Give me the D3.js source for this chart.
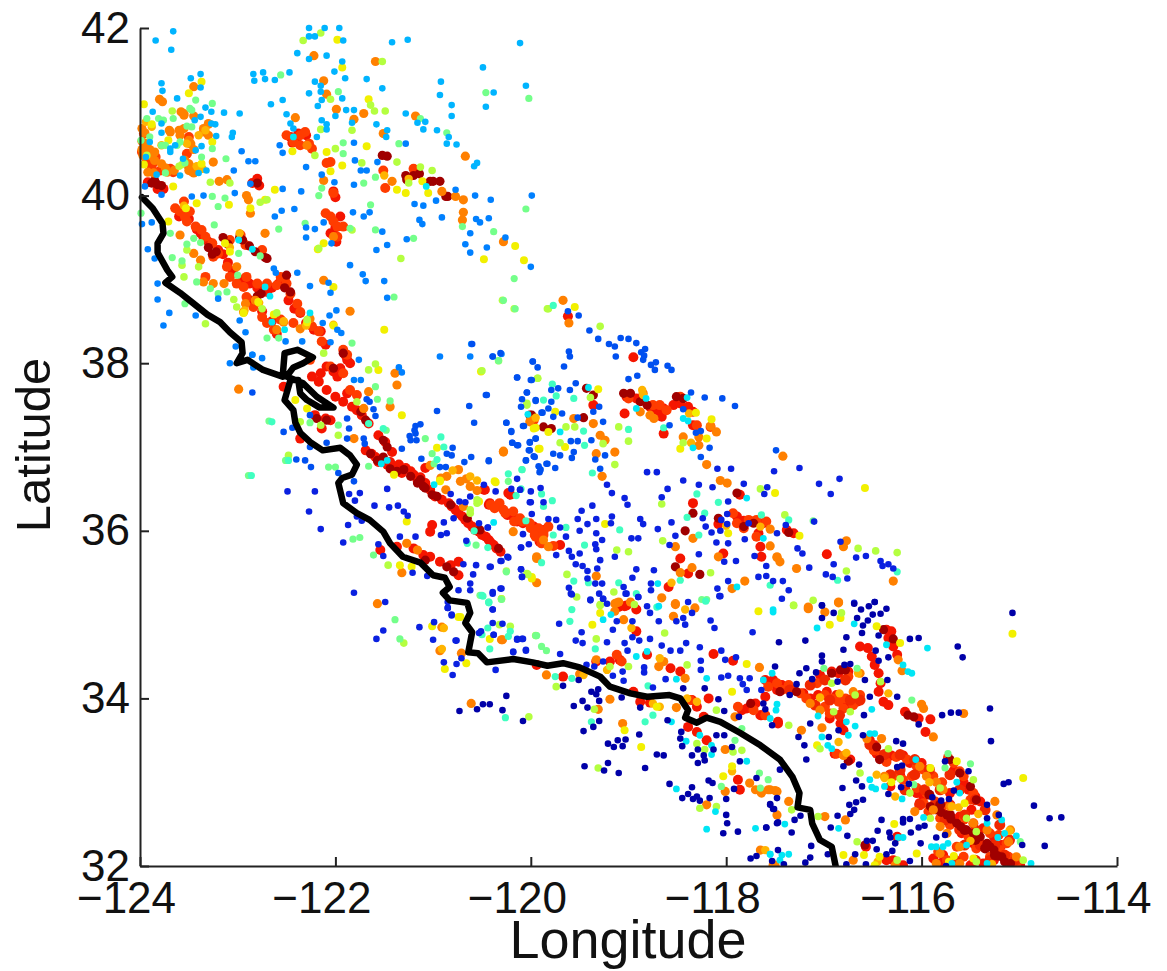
<!DOCTYPE html>
<html>
<head>
<meta charset="utf-8">
<script src="https://cdn.jsdelivr.net/npm/d3@7"></script>
<style>
html,body{margin:0;padding:0;background:#fff}
svg{display:block}
text{font-family:"Liberation Sans",Arial,sans-serif;fill:#111}
</style>
</head>
<body>
<main></main>
<script>
var xTicks = [-124,-122,-120,-118,-116,-114]
var yTicks = [32,34,36,38,40,42]

var coast = [[-123.98,39.98],[-123.87,39.85],[-123.77,39.67],[-123.76,39.55],[-123.82,39.43],[-123.82,39.32],[-123.72,39.11],[-123.67,39.03],[-123.74,38.96],[-123.59,38.84],[-123.46,38.72],[-123.31,38.58],[-123.18,38.49],[-123.08,38.37],[-122.96,38.25],[-122.95,38.12],[-123.01,38.00],[-122.90,38.04],[-122.74,37.92],[-122.54,37.84],[-122.52,38.12],[-122.39,38.16],[-122.23,38.07],[-122.33,38.00],[-122.43,37.95],[-122.50,37.84],[-122.33,37.76],[-122.19,37.60],[-122.02,37.47],[-122.16,37.47],[-122.29,37.56],[-122.36,37.64],[-122.38,37.80],[-122.46,37.80],[-122.52,37.56],[-122.43,37.44],[-122.41,37.29],[-122.36,37.17],[-122.26,37.06],[-122.13,36.96],[-121.95,36.99],[-121.85,36.90],[-121.78,36.79],[-121.83,36.67],[-121.93,36.63],[-121.97,36.57],[-121.92,36.33],[-121.78,36.21],[-121.65,36.13],[-121.51,35.99],[-121.44,35.85],[-121.31,35.69],[-121.13,35.62],[-121.00,35.47],[-120.88,35.44],[-120.83,35.33],[-120.90,35.26],[-120.83,35.17],[-120.65,35.14],[-120.62,35.02],[-120.67,34.90],[-120.60,34.79],[-120.64,34.55],[-120.54,34.54],[-120.45,34.43],[-120.18,34.47],[-119.98,34.43],[-119.83,34.39],[-119.67,34.42],[-119.50,34.37],[-119.29,34.26],[-119.19,34.14],[-118.98,34.06],[-118.81,34.02],[-118.58,34.04],[-118.47,34.00],[-118.39,33.86],[-118.42,33.77],[-118.30,33.71],[-118.20,33.77],[-118.06,33.72],[-117.86,33.59],[-117.65,33.44],[-117.45,33.27],[-117.32,33.06],[-117.25,32.87],[-117.27,32.70],[-117.14,32.67],[-117.12,32.51],[-117.04,32.31],[-116.92,32.23],[-116.88,32.00]]

var darkRed = [[-123.88,40.15],[-123.82,40.13],[-123.78,40.12],[-123.85,40.18],[-121.52,40.48],[-121.47,40.47],[-121.28,40.24],[-121.2,40.24],[-121.14,40.26],[-121.0,40.17],[-120.93,40.17],[-120.85,39.99],[-123.15,39.5],[-123.1,39.42],[-122.98,39.5],[-122.95,39.47],[-122.88,39.4],[-122.82,39.33],[-122.72,39.26],[-122.7,39.25],[-123.3,39.38],[-123.26,39.3],[-123.22,39.33],[-122.8,38.8],[-122.76,38.83],[-122.52,38.9],[-122.46,38.85],[-122.5,39.05],[-121.92,38.12],[-122.02,37.94],[-121.74,37.42],[-121.69,37.32],[-121.51,37.08],[-121.47,37.0],[-121.64,36.92],[-121.57,36.84],[-121.44,36.74],[-121.30,36.73],[-121.13,36.61],[-121.10,36.53],[-120.96,36.41],[-120.82,36.31],[-120.65,36.15],[-120.52,36.01],[-120.33,35.79],[-122.09,37.32],[-122.19,37.34],[-121.08,35.65],[-120.86,35.57],[-120.79,35.51],[-119.99,37.38],[-120.01,37.38],[-119.87,37.24],[-119.79,37.22],[-119.43,37.70],[-119.36,37.62],[-119.46,37.35],[-119.05,37.64],[-118.98,37.64],[-118.88,37.54],[-118.81,37.50],[-118.51,37.60],[-118.44,37.58],[-118.42,36.0],[-118.34,36.21],[-118.08,36.15],[-117.82,36.05],[-117.72,36.09],[-117.36,35.98],[-117.89,36.45],[-118.52,35.57],[-118.27,35.48],[-116.29,34.71],[-116.39,34.82],[-116.14,33.80],[-116.08,33.78],[-116.46,33.42],[-116.43,33.27],[-116.75,33.25],[-116.83,34.34],[-117.45,34.08],[-117.28,34.08],[-115.85,32.67],[-115.74,32.61],[-115.64,32.51],[-115.54,32.43],[-115.33,32.27],[-115.26,32.19],[-115.18,32.11],[-115.09,32.03],[-115.40,32.35],[-115.47,32.39],[-115.91,32.71],[-115.50,32.95],[-115.44,32.79],[-115.71,33.27],[-115.61,33.11],[-116.58,32.25],[-117.75,33.94]]

var red = [[-123.92,40.16],[-123.76,40.08],[-123.82,40.08],[-122.46,40.70],[-122.38,40.74],[-122.3,40.72],[-122.44,40.63],[-122.4,40.66],[-122.85,40.15],[-122.8,40.2],[-122.78,40.12],[-122.02,40.05],[-122.0,39.98],[-121.95,39.75],[-122.05,39.55],[-121.99,39.45],[-122.0,39.62],[-123.6,39.75],[-123.55,39.8],[-123.5,39.72],[-123.42,39.6],[-123.38,39.55],[-123.35,39.5],[-123.3,39.45],[-123.2,39.35],[-123.15,39.3],[-123.1,39.2],[-123.05,39.1],[-122.95,39.0],[-122.88,38.95],[-122.8,38.9],[-122.7,38.85],[-122.65,38.9],[-122.58,38.95],[-122.52,39.0],[-122.48,38.75],[-122.42,38.65],[-122.36,38.6],[-122.3,38.48],[-122.22,38.4],[-122.15,38.38],[-122.1,38.22],[-122.88,38.75],[-122.75,38.62],[-122.65,38.5],[-122.6,38.35],[-122.24,37.84],[-122.17,37.78],[-122.09,37.68],[-122.0,37.60],[-121.92,37.54],[-121.83,37.48],[-121.78,37.44],[-121.73,37.38],[-121.66,37.28],[-121.56,37.14],[-121.49,37.06],[-121.42,36.94],[-121.69,36.96],[-121.63,36.92],[-121.59,36.88],[-121.56,36.82],[-121.47,36.79],[-121.44,36.82],[-121.39,36.75],[-121.35,36.79],[-121.32,36.69],[-121.28,36.75],[-121.23,36.71],[-121.20,36.67],[-121.16,36.61],[-121.13,36.64],[-121.08,36.75],[-121.08,36.57],[-121.03,36.49],[-120.98,36.41],[-120.91,36.37],[-120.84,36.33],[-120.81,36.29],[-120.77,36.25],[-120.74,36.21],[-120.70,36.17],[-120.67,36.13],[-120.64,36.09],[-120.60,36.05],[-120.57,36.01],[-120.53,35.99],[-120.50,35.95],[-120.46,35.93],[-120.43,35.89],[-120.41,35.86],[-120.38,35.83],[-120.35,35.79],[-120.31,35.75],[-122.09,37.96],[-122.02,37.90],[-121.95,37.94],[-122.15,37.88],[-121.88,38.04],[-121.90,38.10],[-121.85,38.0],[-121.98,37.84],[-121.88,37.64],[-122.21,37.38],[-122.10,37.34],[-122.14,37.22],[-122.05,37.32],[-122.53,37.72],[-122.36,37.10],[-121.54,35.77],[-121.37,35.81],[-121.20,35.79],[-121.10,35.71],[-121.03,35.69],[-120.93,35.63],[-120.82,35.59],[-120.74,35.47],[-120.74,35.63],[-121.01,36.07],[-121.03,35.99],[-120.43,36.31],[-120.35,36.29],[-120.24,36.19],[-120.14,36.11],[-120.23,36.45],[-119.95,35.97],[-119.87,36.01],[-120.48,36.49],[-120.42,36.33],[-120.25,36.21],[-120.18,36.17],[-120.08,36.09],[-119.97,36.05],[-119.91,35.97],[-119.91,35.87],[-119.70,35.83],[-120.21,36.43],[-120.47,36.49],[-119.02,37.60],[-118.92,37.58],[-118.78,37.48],[-118.71,37.44],[-118.64,37.46],[-118.66,37.36],[-118.54,37.50],[-118.47,37.52],[-118.39,37.48],[-118.34,37.42],[-119.04,37.40],[-118.34,37.26],[-118.64,37.16],[-119.36,37.50],[-118.95,38.07],[-119.62,38.56],[-118.34,36.33],[-118.08,36.08],[-117.89,36.17],[-117.82,36.12],[-117.62,36.09],[-117.67,35.97],[-117.86,36.43],[-117.38,36.01],[-117.31,35.97],[-117.65,35.81],[-117.64,35.69],[-118.47,35.67],[-118.39,35.49],[-118.59,35.33],[-119.02,35.11],[-119.1,35.09],[-118.03,35.73],[-116.97,35.72],[-116.36,34.82],[-116.31,34.80],[-116.34,34.72],[-116.29,34.62],[-116.25,34.52],[-116.63,34.62],[-116.55,34.60],[-116.51,34.50],[-116.48,34.40],[-116.44,34.30],[-116.42,34.18],[-116.44,34.08],[-116.39,33.96],[-116.34,33.92],[-116.03,33.76],[-115.91,33.75],[-116.17,33.84],[-115.96,33.60],[-117.60,34.22],[-117.52,34.22],[-117.43,34.16],[-117.47,33.72],[-117.64,33.80],[-117.04,34.28],[-116.92,34.32],[-116.85,34.30],[-116.75,34.32],[-116.97,34.08],[-116.87,34.04],[-116.77,33.92],[-116.66,33.96],[-116.94,33.76],[-116.83,33.70],[-116.80,33.62],[-117.21,34.06],[-117.14,34.0],[-117.06,34.04],[-116.53,33.50],[-116.48,33.44],[-116.46,33.34],[-116.37,33.28],[-116.31,33.32],[-116.19,33.32],[-116.22,33.09],[-116.12,33.23],[-116.0,33.23],[-116.32,32.95],[-116.05,32.87],[-115.98,32.83],[-116.02,32.75],[-115.71,32.87],[-115.67,33.14],[-115.57,33.0],[-115.52,32.91],[-115.45,32.83],[-115.40,32.77],[-115.49,32.67],[-115.61,32.59],[-115.69,32.57],[-115.59,32.39],[-115.78,32.63],[-115.37,32.45],[-115.26,32.35],[-115.18,32.25],[-115.06,32.07],[-115.47,32.27],[-115.26,32.07],[-115.37,32.03],[-114.99,32.0],[-115.88,32.09],[-115.81,32.03],[-115.78,32.13],[-116.29,32.07],[-116.19,32.01],[-116.36,32.07],[-116.57,32.23],[-116.25,32.35],[-115.50,32.01],[-116.73,33.27],[-116.89,33.34],[-117.79,33.88],[-117.70,33.94],[-117.65,33.80],[-117.84,33.86],[-117.52,34.18],[-117.48,34.10],[-117.60,34.02],[-117.47,33.70],[-119.04,35.10],[-118.92,35.06],[-119.09,34.46],[-119.19,34.44],[-119.33,34.44],[-118.81,34.52],[-118.57,34.36],[-118.47,34.32],[-118.35,33.98],[-118.30,33.90],[-118.23,33.78],[-118.39,33.66],[-118.30,33.60],[-118.20,33.50],[-118.18,34.0],[-117.88,33.03],[-117.86,32.91],[-119.94,34.40],[-119.67,34.26],[-118.88,33.96],[-118.78,33.95],[-118.95,34.08],[-118.13,34.53],[-117.93,34.45],[-118.92,34.80]]

var darkBand = [[-121.51,36.88],[-121.37,36.71],[-121.23,36.65],[-121.16,36.57],[-121.08,36.51],[-121.01,36.43],[-122.80,40.15],[-121.27,40.19],[-121.03,40.17],[-120.87,39.99],[-115.80,32.64],[-115.70,32.56],[-115.60,32.47],[-115.44,32.37],[-115.30,32.23],[-115.22,32.12],[-115.15,32.05],[-116.92,34.30],[-116.78,34.34]]

var redOrange = [[-123.96,40.74],[-123.95,40.6],[-123.91,40.52],[-123.84,40.46],[-123.98,40.52],[-123.88,40.34],[-123.79,40.30],[-123.69,40.32],[-123.66,40.28],[-123.50,40.35],[-123.47,40.29],[-123.52,40.50],[-123.86,40.40],[-123.93,40.40],[-123.50,40.70],[-122.50,40.72],[-122.43,40.64],[-122.36,40.72],[-122.31,40.76],[-122.24,40.56],[-122.36,40.60],[-122.27,40.62],[-122.05,40.40],[-122.09,40.39],[-122.02,40.03],[-122.10,39.79],[-122.05,39.75],[-122.02,39.69],[-121.98,39.63],[-121.92,39.63],[-121.98,39.51],[-121.20,40.32],[-121.51,40.30],[-121.49,40.09],[-123.64,39.85],[-123.59,39.81],[-123.54,39.75],[-123.49,39.81],[-123.55,39.93],[-123.52,39.69],[-123.43,39.63],[-123.37,39.59],[-123.33,39.51],[-123.26,39.43],[-123.20,39.31],[-123.25,39.27],[-123.08,39.47],[-122.97,39.53],[-122.92,39.41],[-122.75,39.35],[-123.08,39.03],[-123.01,38.95],[-122.94,38.91],[-122.80,38.95],[-122.70,38.95],[-122.60,38.93],[-122.56,39.03],[-122.50,38.95],[-122.46,38.83],[-122.39,38.71],[-122.36,38.61],[-122.91,38.79],[-122.84,38.67],[-122.75,38.55],[-122.70,38.48],[-122.63,38.40],[-122.56,38.52],[-122.43,38.48],[-122.24,38.44],[-122.17,38.38],[-122.14,38.26],[-121.92,38.16],[-121.88,38.10],[-123.33,39.03],[-123.11,39.15],[-122.91,39.03],[-122.26,38.04],[-122.05,37.96],[-121.92,37.88],[-121.85,37.68],[-121.78,37.62],[-120.41,36.31],[-120.26,36.21],[-120.17,36.11],[-120.09,36.11],[-120.0,36.03],[-119.95,35.93],[-119.87,35.99],[-119.89,35.89],[-119.82,36.05],[-120.01,36.09],[-119.92,36.03],[-119.96,35.95],[-119.87,35.95],[-119.89,35.85],[-119.77,35.82],[-120.32,36.33],[-120.37,36.27],[-120.28,36.25],[-120.18,36.23],[-120.11,36.15],[-119.0,37.58],[-118.75,37.50],[-118.68,37.50],[-118.61,37.44],[-118.47,37.60],[-118.30,37.26],[-118.16,37.24],[-119.97,37.32],[-117.93,36.21],[-117.89,36.09],[-117.82,36.03],[-117.77,36.13],[-117.69,36.13],[-117.59,36.11],[-117.69,35.93],[-116.49,33.38],[-116.41,33.32],[-116.36,33.24],[-116.26,33.30],[-116.15,33.27],[-116.05,33.19],[-115.98,33.15],[-115.88,33.07],[-115.79,33.0],[-116.10,33.07],[-116.29,33.07],[-116.19,33.03],[-116.05,32.93],[-115.95,32.87],[-115.86,32.77],[-115.79,32.71],[-115.98,32.75],[-115.93,32.65],[-115.81,32.57],[-115.71,32.49],[-115.61,32.45],[-115.52,32.35],[-115.40,32.27],[-115.30,32.11],[-115.44,32.21],[-115.20,32.19],[-115.11,32.11],[-115.47,32.51],[-115.57,32.55],[-115.30,32.39],[-115.21,32.37],[-115.13,32.27],[-115.03,32.03],[-115.64,32.23],[-115.57,32.11],[-115.83,32.17],[-115.74,32.07],[-115.73,33.29],[-115.67,33.23],[-115.61,33.13],[-115.57,33.07],[-115.47,32.87],[-115.50,32.79],[-117.07,34.18],[-116.99,34.04],[-116.92,34.0],[-116.85,33.96],[-116.78,34.0],[-116.71,33.98],[-116.63,34.04],[-116.75,34.26],[-116.99,33.90],[-116.80,33.88],[-116.70,33.92],[-116.94,33.82],[-117.24,34.06],[-117.31,34.10],[-117.57,34.14],[-117.48,34.18],[-117.43,34.10],[-117.36,34.16],[-117.18,34.0],[-116.87,33.34],[-117.88,33.90],[-117.72,33.86],[-117.60,33.80],[-119.12,34.52],[-119.07,34.44],[-118.37,33.98]]

var tailRed = [[-116.53,33.45],[-116.38,33.33],[-116.22,33.15],[-116.32,33.09],[-116.07,33.09],[-115.97,32.91],[-116.17,32.91],[-115.81,32.91],[-115.86,32.73],[-115.71,32.73],[-116.02,32.73],[-115.76,32.55],[-115.56,32.61],[-115.61,32.43],[-115.45,32.43],[-115.40,32.25],[-115.56,32.25],[-115.25,32.25],[-115.30,32.07],[-115.15,32.13],[-115.45,32.07],[-115.66,32.07],[-115.04,32.07],[-115.71,33.09],[-115.61,32.91],[-115.45,32.79],[-115.35,32.67],[-115.20,32.49],[-115.10,32.31],[-116.22,33.33],[-116.07,33.27],[-115.92,33.15],[-117.35,34.10],[-117.14,34.16],[-116.99,34.22],[-116.78,34.22],[-116.94,33.98],[-116.73,33.98],[-117.09,33.92],[-116.84,33.80],[-116.63,33.98]]

var tailDark = [[-115.56,32.43],[-115.45,32.31],[-115.35,32.21],[-115.25,32.13],[-115.71,32.61],[-115.81,32.73],[-115.92,32.85]]

var orange = [[-123.98,40.8],[-123.95,40.75],[-123.98,40.65],[-123.93,40.62],[-123.98,40.55],[-123.9,40.55],[-123.85,40.52],[-123.97,40.48],[-123.88,40.47],[-123.85,40.42],[-123.78,40.38],[-123.92,40.28],[-123.86,40.27],[-123.72,40.28],[-123.65,40.3],[-123.5,40.3],[-123.45,40.27],[-123.5,40.38],[-123.47,40.33],[-123.55,40.8],[-123.6,40.78],[-123.7,40.78],[-123.5,40.66],[-123.48,40.62],[-123.45,40.55],[-123.35,40.8],[-123.3,40.85],[-123.3,40.72],[-123.58,41.0],[-123.55,40.96],[-123.45,41.3],[-123.8,41.15],[-123.77,41.12],[-123.45,40.95],[-122.22,41.67],[-121.59,41.6],[-122.12,41.37],[-122.09,41.21],[-121.99,41.03],[-122.41,40.93],[-121.71,40.98],[-121.81,40.91],[-121.18,40.95],[-121.51,40.74],[-120.67,40.47],[-122.29,40.6],[-123.19,40.17],[-123.11,40.19],[-122.91,40.0],[-122.89,39.95],[-122.87,39.79],[-122.72,39.55],[-123.59,39.53],[-122.12,38.99],[-121.85,38.62],[-122.12,40.18],[-121.42,40.17],[-120.91,40.05],[-120.77,39.99],[-120.69,39.95],[-120.70,39.71],[-120.69,39.80],[-120.28,39.45],[-122.02,39.51],[-123.14,38.95],[-123.25,38.95],[-123.35,38.97],[-123.45,39.31],[-123.01,39.15],[-122.94,38.61],[-122.60,38.40],[-122.53,38.49],[-122.99,37.69],[-121.81,37.10],[-121.66,37.66],[-121.44,37.48],[-121.37,37.74],[-121.39,37.88],[-120.28,36.94],[-119.94,35.67],[-120.30,34.70],[-121.32,35.50],[-121.27,35.85],[-121.16,35.77],[-120.91,34.85],[-120.93,34.57],[-121.57,35.13],[-120.86,36.65],[-120.74,36.73],[-120.72,36.59],[-120.62,36.53],[-120.87,36.49],[-120.69,36.29],[-120.18,35.99],[-119.87,35.89],[-120.0,37.32],[-118.85,37.64],[-118.88,37.42],[-118.78,37.38],[-118.74,37.34],[-120.01,37.30],[-119.56,37.34],[-119.36,37.28],[-119.29,37.14],[-119.24,37.08],[-119.14,36.94],[-119.33,36.92],[-120.28,36.95],[-119.67,38.75],[-119.61,38.48],[-118.16,37.25],[-118.10,37.18],[-118.28,37.12],[-118.28,37.02],[-118.44,37.12],[-118.20,36.79],[-117.42,36.89],[-119.27,36.65],[-118.06,36.60],[-117.99,36.57],[-118.34,35.91],[-118.52,35.81],[-116.77,35.88],[-116.80,35.81],[-116.29,35.40],[-117.28,35.55],[-117.48,35.69],[-117.55,35.82],[-117.45,35.63],[-119.33,35.46],[-119.94,35.38],[-119.94,35.69],[-119.82,35.81],[-118.08,35.69],[-117.81,35.40],[-117.94,35.31],[-116.85,35.15],[-117.16,35.09],[-118.52,35.13],[-119.14,35.13],[-116.02,33.19],[-115.95,33.07],[-115.85,33.0],[-115.78,32.91],[-115.71,32.71],[-115.81,32.47],[-115.74,32.39],[-115.88,32.67],[-115.61,32.23],[-115.47,32.51],[-115.33,32.43],[-115.23,32.61],[-115.09,32.43],[-115.11,32.29],[-115.03,32.11],[-115.25,32.77],[-115.81,32.15],[-115.85,32.03],[-115.61,32.03],[-116.07,32.65],[-116.41,33.52],[-116.56,33.52],[-116.38,33.07],[-116.80,33.32],[-117.04,33.86],[-117.14,33.94],[-116.70,34.08],[-116.63,34.30],[-117.16,35.07],[-116.85,35.14],[-116.99,35.03],[-116.20,34.33],[-116.24,34.46],[-116.0,33.93],[-115.98,33.88],[-115.88,33.54],[-115.57,33.82],[-117.02,33.65],[-117.23,33.62],[-117.48,32.61],[-117.36,32.77],[-117.57,32.91],[-117.50,32.90],[-117.64,32.87],[-116.99,32.59],[-116.78,32.55],[-116.70,32.07],[-117.50,32.01],[-116.27,32.01],[-119.12,35.14],[-119.14,35.04],[-119.05,34.94],[-118.54,34.98],[-118.52,35.12],[-118.32,35.08],[-118.66,35.20],[-119.33,34.46],[-118.69,34.38],[-118.64,34.44],[-118.42,34.24],[-119.19,33.99],[-119.31,33.87],[-120.71,34.54],[-120.61,33.94],[-120.29,34.70],[-119.84,34.28],[-119.50,34.29],[-118.51,33.89],[-119.06,33.70],[-118.20,32.73],[-118.01,32.89],[-117.70,32.91],[-117.76,32.99],[-117.55,32.91],[-117.48,32.89],[-117.64,32.88],[-118.01,33.39],[-117.65,32.19],[-117.52,32.01],[-117.91,33.78],[-117.66,34.37],[-123.69,40.76],[-123.59,40.72],[-123.55,40.98],[-123.30,40.86],[-123.35,40.76],[-123.49,40.62],[-123.25,40.40],[-123.54,40.42],[-123.74,40.33],[-123.38,39.23],[-122.92,38.71],[-122.82,38.75],[-122.36,38.41],[-122.26,38.53],[-121.71,37.46],[-121.03,36.78],[-120.66,36.62],[-120.92,36.63],[-120.55,36.48],[-117.55,36.02],[-117.48,35.68],[-118.35,35.56],[-118.47,35.50],[-119.10,35.15],[-118.98,35.15]]

var amber = [[-123.94,40.88],[-123.88,40.82],[-123.78,40.6],[-123.52,40.62],[-123.4,40.72],[-123.33,40.78],[-123.42,40.35],[-123.36,40.32],[-121.5,40.24],[-121.25,40.2],[-116.84,34.06],[-117.04,34.01],[-116.65,34.30],[-116.34,34.06],[-116.85,33.48],[-116.77,33.35],[-116.38,33.05],[-116.46,33.09],[-116.27,32.83],[-115.69,32.71],[-118.68,34.48],[-118.97,34.84],[-118.30,33.96],[-118.68,33.90],[-118.75,33.94],[-119.22,34.34],[-117.94,33.13],[-118.42,35.06],[-120.89,34.84],[-120.91,34.59],[-119.46,34.28],[-118.40,34.0],[-117.60,32.19],[-120.62,36.65],[-120.55,36.6],[-120.8,36.72],[-118.86,37.68],[-118.38,37.4],[-119.95,37.35],[-118.36,37.05],[-118.0,36.06],[-117.65,36.05],[-115.92,33.0],[-115.62,32.7],[-115.42,32.62],[-115.1,32.42],[-115.5,32.3],[-115.28,32.02],[-116.45,32.05],[-123.55,39.88],[-123.08,39.38],[-122.98,39.55],[-122.93,38.63],[-122.78,38.72],[-122.53,38.50],[-122.02,38.46],[-122.3,38.45],[-118.85,37.62],[-118.56,35.38]]

var yellow = [[-121.98,41.86],[-121.93,41.53],[-123.37,41.36],[-123.50,41.22],[-123.96,41.09],[-123.88,40.85],[-123.71,40.66],[-123.26,40.64],[-123.37,40.38],[-123.96,40.37],[-123.66,40.11],[-122.44,40.53],[-122.09,40.52],[-121.93,40.36],[-122.05,40.29],[-121.68,40.59],[-121.11,40.17],[-121.05,40.03],[-121.37,40.07],[-121.28,40.03],[-122.62,40.07],[-122.72,39.95],[-123.09,39.89],[-122.87,39.85],[-123.71,39.69],[-123.42,39.91],[-123.53,39.85],[-122.12,39.43],[-122.18,39.36],[-120.48,39.24],[-120.16,39.40],[-120.07,39.23],[-121.50,38.40],[-122.02,38.91],[-122.02,38.45],[-123.08,39.33],[-123.13,39.43],[-122.79,38.73],[-122.94,38.60],[-122.63,38.58],[-122.29,38.49],[-121.66,41.15],[-120.51,37.90],[-121.56,37.92],[-121.32,37.38],[-120.96,36.99],[-121.40,36.67],[-121.27,36.11],[-120.36,36.58],[-120.93,36.59],[-120.53,36.35],[-119.99,35.45],[-119.92,36.98],[-119.95,37.23],[-120.72,34.97],[-121.01,34.86],[-121.34,35.59],[-121.22,35.57],[-122.29,37.46],[-122.41,37.56],[-119.55,38.67],[-119.75,37.42],[-119.31,37.69],[-119.97,37.22],[-119.82,37.18],[-120.37,36.59],[-119.91,36.98],[-119.65,37.0],[-119.24,36.08],[-119.99,35.43],[-118.15,37.33],[-118.20,37.10],[-118.47,36.98],[-118.31,37.41],[-117.50,36.45],[-116.58,36.51],[-117.25,35.94],[-117.98,35.97],[-117.67,35.04],[-119.37,34.88],[-119.29,35.02],[-118.87,33.42],[-119.04,33.62],[-120.88,34.35],[-120.66,34.42],[-120.74,34.97],[-120.42,34.71],[-118.71,33.90],[-117.94,34.08],[-117.79,34.41],[-118.03,33.07],[-117.94,33.19],[-116.94,34.88],[-116.83,34.96],[-116.46,34.86],[-116.22,34.66],[-115.07,34.77],[-114.96,33.05],[-117.07,33.44],[-116.28,32.50],[-116.05,32.15],[-116.59,32.13],[-116.43,32.11],[-116.48,32.01],[-116.80,32.13],[-116.31,33.0],[-115.91,33.17],[-115.64,33.25],[-115.47,32.09],[-115.56,32.75],[-120.93,36.6],[-115.67,32.12],[-115.72,32.05]]

var lime = [[-122.33,41.85],[-122.15,41.94],[-121.52,41.60],[-122.05,41.15],[-123.67,41.01],[-121.64,41.08],[-121.49,41.01],[-121.60,41.01],[-121.83,40.78],[-122.15,40.79],[-122.0,40.56],[-122.21,40.48],[-121.73,40.39],[-121.13,40.34],[-121.01,40.30],[-121.37,40.40],[-121.25,40.15],[-123.57,40.37],[-123.93,40.48],[-123.60,40.35],[-123.08,40.15],[-123.28,40.16],[-122.70,39.95],[-122.77,39.92],[-121.83,39.59],[-121.33,39.25],[-119.83,38.65],[-123.33,38.47],[-123.55,39.03],[-123.57,39.17],[-123.40,39.15],[-123.52,39.35],[-123.04,38.76],[-123.01,38.67],[-122.75,38.65],[-122.12,38.12],[-122.29,38.52],[-122.17,39.37],[-122.60,38.60],[-122.48,36.90],[-121.59,37.99],[-121.66,37.92],[-121.78,37.54],[-121.97,37.14],[-122.36,37.30],[-122.15,37.26],[-119.93,37.82],[-120.04,37.52],[-120.04,35.49],[-120.30,35.19],[-121.46,35.59],[-121.30,34.66],[-120.55,36.33],[-120.62,36.21],[-120.29,38.75],[-120.17,38.65],[-119.82,38.65],[-119.29,38.44],[-120.50,37.91],[-119.93,37.82],[-120.33,38.03],[-120.04,37.50],[-119.64,37.24],[-119.55,37.24],[-119.39,37.59],[-119.10,37.24],[-119.0,37.07],[-119.26,37.04],[-119.70,37.05],[-119.14,36.79],[-118.66,36.32],[-118.65,35.88],[-119.12,35.77],[-119.0,35.75],[-120.25,35.52],[-120.03,35.48],[-119.63,35.48],[-119.15,35.27],[-119.53,35.21],[-119.29,35.11],[-120.30,35.19],[-118.44,37.05],[-118.16,35.50],[-117.65,36.50],[-117.40,36.19],[-116.77,35.52],[-116.65,35.79],[-116.47,35.76],[-116.25,35.74],[-117.31,35.11],[-117.11,35.17],[-116.42,34.20],[-116.68,34.04],[-116.90,33.84],[-116.73,33.84],[-116.92,34.18],[-116.34,33.40],[-116.63,33.11],[-116.22,33.04],[-116.12,32.87],[-115.81,32.93],[-115.91,32.57],[-115.47,33.03],[-115.44,32.41],[-115.54,32.57],[-114.96,32.07],[-115.44,32.05],[-116.66,32.29],[-117.04,33.40],[-117.36,33.68],[-117.31,35.11],[-116.82,35.02],[-116.25,32.07],[-117.33,32.67],[-117.06,32.59],[-119.95,34.75],[-119.33,34.71],[-120.32,34.88],[-120.21,34.86],[-120.02,33.78],[-119.31,33.17],[-119.74,34.14],[-119.35,33.87],[-118.63,34.78],[-118.40,34.40],[-118.27,32.69],[-118.10,32.71],[-117.93,33.36],[-117.84,33.38],[-118.22,33.39],[-118.30,33.46],[-118.10,33.86],[-119.19,34.38],[-119.0,34.38],[-119.29,35.12],[-118.94,35.12],[-120.55,36.37],[-120.62,36.25]]

var green = [[-123.99,39.79],[-122.56,41.44],[-121.97,41.24],[-120.46,41.23],[-120.02,41.16],[-120.86,40.75],[-121.35,40.62],[-121.92,40.63],[-121.92,40.50],[-123.12,40.44],[-123.26,40.56],[-123.37,40.46],[-123.47,41.02],[-123.81,40.92],[-123.93,40.92],[-123.59,40.64],[-123.74,40.60],[-123.26,41.10],[-123.43,41.14],[-123.26,39.99],[-123.13,39.97],[-123.20,39.87],[-123.99,40.66],[-122.58,39.60],[-122.31,39.67],[-122.17,40.0],[-122.14,40.09],[-121.71,40.15],[-121.64,39.89],[-121.85,39.61],[-121.59,40.22],[-121.13,40.92],[-120.05,39.84],[-120.38,39.57],[-120.17,39.01],[-120.28,38.75],[-120.16,38.65],[-121.20,39.49],[-121.40,38.79],[-123.69,39.55],[-123.45,39.49],[-123.52,39.42],[-123.67,39.26],[-123.57,39.22],[-123.38,39.44],[-123.42,38.97],[-123.28,38.89],[-123.20,38.83],[-123.11,38.85],[-123.54,38.71],[-122.70,38.30],[-122.58,38.30],[-122.77,39.28],[-121.83,38.24],[-123.24,39.65],[-122.99,39.31],[-123.0,39.05],[-121.59,39.59],[-120.70,39.63],[-122.68,37.31],[-122.89,36.66],[-122.51,36.84],[-122.07,36.76],[-122.0,36.76],[-121.59,37.72],[-121.57,37.57],[-121.44,37.55],[-121.48,37.20],[-121.08,37.10],[-121.01,36.92],[-120.99,36.80],[-121.66,36.77],[-121.97,37.26],[-122.26,37.29],[-120.56,35.83],[-120.25,35.51],[-121.82,35.90],[-121.75,35.92],[-121.39,34.94],[-121.34,34.71],[-119.94,34.75],[-120.52,35.23],[-120.43,35.15],[-120.33,38.03],[-120.23,36.59],[-120.09,36.73],[-121.61,35.71],[-119.95,34.75],[-119.89,34.62],[-119.84,34.57],[-120.30,35.18],[-118.20,35.18],[-118.25,35.18],[-117.84,33.64],[-117.91,33.50],[-117.65,32.93],[-117.57,33.03],[-117.66,33.11],[-118.05,32.95],[-116.66,34.36],[-115.73,33.34],[-115.76,33.17],[-115.50,33.22],[-116.08,32.97],[-114.99,32.29],[-116.10,33.98],[-117.0,34.36],[-117.11,36.12],[-123.76,40.90],[-123.66,40.92],[-123.52,40.83],[-123.47,40.82],[-123.49,41.04],[-123.90,40.70],[-123.78,40.60],[-123.62,40.60],[-123.74,40.27],[-123.54,40.39]]

var aqua = [[-119.77,38.69],[-119.78,37.75],[-119.74,37.61],[-119.56,37.58],[-119.87,37.56],[-119.46,37.19],[-119.45,37.02],[-119.0,37.21],[-118.64,37.23],[-118.30,36.44],[-120.23,36.68],[-120.09,36.73],[-119.89,36.44],[-119.78,36.36],[-119.87,36.29],[-119.64,36.04],[-119.77,35.95],[-119.45,35.83],[-119.89,35.62],[-119.56,35.40],[-119.41,35.38],[-119.10,35.38],[-118.92,35.25],[-120.49,35.22],[-120.43,35.14],[-119.09,36.01],[-119.37,36.69],[-118.08,36.34],[-118.22,36.21],[-118.40,36.16],[-118.28,35.95],[-117.64,36.19],[-117.36,36.13],[-116.86,35.41],[-117.55,35.35],[-118.47,35.41],[-118.71,35.09],[-118.21,35.16],[-116.25,35.51],[-120.50,35.23],[-120.43,35.15],[-120.44,34.84],[-120.21,34.80],[-120.23,34.74],[-120.50,34.76],[-120.42,34.59],[-119.58,35.06],[-119.60,34.92],[-119.34,34.59],[-119.75,34.26],[-119.58,34.24],[-122.65,37.3],[-122.48,36.84],[-122.86,36.66],[-121.66,37.28],[-121.51,37.22],[-120.92,37.12],[-120.89,37.0],[-120.96,36.85],[-120.58,36.0],[-120.44,35.8],[-120.65,35.85],[-120.1,36.5],[-120.15,36.42],[-120.05,36.12],[-118.8,34.15],[-118.75,33.8],[-118.83,33.72],[-119.38,33.72],[-120.26,33.77]]

var cyan = [[-122.43,40.70],[-121.07,40.11],[-122.65,38.49],[-122.72,38.91],[-122.85,39.36],[-122.99,39.47],[-122.26,38.60],[-122.52,38.40],[-122.67,38.80],[-116.75,33.56],[-117.02,33.54],[-116.92,33.40],[-116.96,33.44],[-116.53,33.58],[-116.48,33.58],[-116.68,33.67],[-116.77,33.72],[-116.85,32.45],[-117.40,32.50],[-117.36,32.14],[-117.43,32.13],[-117.55,32.14],[-117.45,32.07],[-115.90,32.23],[-115.85,32.23],[-115.78,32.23],[-115.73,32.27],[-116.24,32.34],[-116.19,32.34],[-116.53,33.03],[-116.51,32.94],[-116.47,32.92],[-116.38,32.95],[-116.06,33.27],[-116.20,32.80],[-115.98,32.58],[-115.64,33.0],[-115.61,32.87],[-115.33,32.51],[-115.18,32.55],[-115.15,32.39],[-115.22,32.34],[-115.03,32.36],[-115.54,32.25],[-115.69,32.03],[-115.33,32.03],[-114.88,32.03],[-116.14,34.32],[-116.10,34.30],[-116.19,34.40],[-115.94,34.60],[-116.36,34.64],[-116.51,33.87],[-117.06,33.79],[-117.52,35.06],[-117.48,33.93],[-117.49,33.86],[-117.55,33.76],[-117.07,34.84],[-116.69,34.89],[-117.62,34.22],[-117.53,34.30],[-118.51,32.92],[-118.20,32.44],[-118.11,32.65],[-117.70,32.45],[-117.55,32.14],[-118.15,33.33],[-118.41,33.49],[-118.27,33.56],[-118.15,33.44],[-118.56,33.72],[-118.92,34.50],[-118.81,34.56],[-119.26,34.94],[-119.18,35.0],[-117.52,35.03],[-118.69,35.10],[-117.79,33.25],[-118.51,34.23],[-118.20,34.24],[-119.41,37.71],[-120.03,37.39],[-118.82,37.58],[-118.92,37.46],[-118.40,37.59],[-118.44,37.34],[-118.39,37.31],[-117.62,35.91],[-117.79,36.39],[-118.70,35.37],[-117.89,35.33],[-118.34,36.99],[-119.70,37.18],[-121.53,36.8],[-121.47,36.84],[-120.99,36.55],[-120.38,36.1]]

var sky = [[-123.66,41.96],[-123.84,41.85],[-123.68,41.74],[-122.27,42.0],[-122.11,42.0],[-121.96,42.0],[-122.27,41.9],[-122.21,41.9],[-121.92,41.85],[-121.42,41.83],[-121.26,41.86],[-120.11,41.82],[-122.39,41.70],[-122.09,41.67],[-122.27,41.63],[-121.93,41.60],[-120.49,41.53],[-122.84,41.45],[-122.74,41.47],[-122.47,41.47],[-122.83,41.37],[-122.72,41.39],[-122.62,41.38],[-122.01,41.48],[-121.90,41.40],[-121.68,41.39],[-120.92,41.36],[-120.05,41.31],[-120.38,41.23],[-123.38,41.45],[-123.48,41.40],[-123.78,41.34],[-123.77,41.25],[-123.38,41.29],[-122.21,41.36],[-122.15,41.31],[-122.15,41.24],[-122.27,41.22],[-121.52,41.28],[-120.93,41.20],[-122.14,41.14],[-121.93,41.16],[-122.54,41.14],[-122.66,41.09],[-122.18,41.07],[-120.81,41.08],[-120.46,41.06],[-123.62,41.16],[-123.33,41.05],[-123.87,41.0],[-123.27,41.0],[-123.14,40.99],[-122.98,40.98],[-123.38,40.94],[-123.44,40.90],[-123.27,40.86],[-123.23,40.85],[-123.78,40.86],[-123.78,40.75],[-123.05,40.75],[-123.06,40.70],[-123.22,40.71],[-123.69,40.56],[-123.69,40.52],[-123.90,40.64],[-123.37,40.59],[-123.40,40.27],[-123.32,40.30],[-123.59,40.24],[-123.64,40.60],[-123.83,40.25],[-123.94,40.46],[-123.56,40.44],[-123.43,40.54],[-122.50,40.97],[-122.46,40.86],[-122.43,40.80],[-122.19,40.70],[-122.09,40.85],[-122.09,40.79],[-122.14,40.90],[-122.0,40.95],[-121.89,41.02],[-121.81,41.02],[-121.83,40.87],[-121.58,40.85],[-121.47,40.78],[-121.48,40.70],[-121.28,40.98],[-121.16,40.87],[-121.08,40.88],[-121.10,40.79],[-120.96,40.78],[-120.84,40.70],[-120.86,40.62],[-120.76,40.61],[-120.81,40.95],[-120.58,40.35],[-120.55,40.39]]

var azure = [[-122.54,40.08],[-122.87,40.14],[-122.35,40.05],[-122.62,39.75],[-122.55,39.82],[-122.42,39.84],[-123.04,40.30],[-122.89,40.41],[-122.82,40.41],[-122.96,40.53],[-123.47,39.99],[-123.35,40.0],[-123.03,40.03],[-123.95,40.11],[-123.78,40.01],[-123.98,39.66],[-123.88,39.68],[-123.76,38.45],[-123.70,38.60],[-123.82,38.76],[-123.82,38.95],[-123.92,39.36],[-123.85,39.25],[-123.43,38.57],[-123.20,38.77],[-122.98,38.51],[-122.92,38.37],[-123.02,38.20],[-122.85,38.10],[-122.63,39.13],[-122.61,39.08],[-122.39,39.08],[-122.26,38.92],[-122.05,38.84],[-122.07,38.96],[-122.30,39.50],[-122.30,39.62],[-122.21,39.60],[-122.12,39.68],[-122.04,39.43],[-121.82,39.80],[-121.71,39.75],[-121.65,39.80],[-121.85,39.17],[-121.72,39.06],[-121.69,38.98],[-121.50,38.98],[-121.47,38.78],[-121.58,39.35],[-121.47,39.41],[-121.52,39.57],[-121.27,39.48],[-121.14,39.71],[-121.11,39.66],[-120.91,39.74],[-121.19,39.90],[-121.10,39.88],[-120.97,39.94],[-120.56,39.72],[-120.52,39.68],[-120.43,39.73],[-120.62,39.55],[-120.67,39.42],[-120.62,39.32],[-120.45,39.38],[-120.26,39.50],[-120.0,39.15],[-120.61,38.23],[-122.13,38.48],[-122.06,38.57],[-121.99,38.63],[-121.98,38.40],[-121.94,38.36],[-122.05,38.25],[-122.34,38.26],[-122.51,38.26],[-120.41,39.95],[-120.57,40.0],[-120.77,40.07],[-119.99,40.0],[-121.74,40.30],[-121.68,40.30],[-121.57,40.40],[-121.80,40.42],[-121.81,40.13],[-122.01,40.16],[-122.14,40.25],[-122.30,40.34],[-122.54,40.51],[-122.57,40.60],[-121.81,40.63],[-121.28,40.62],[-120.93,38.08],[-120.62,38.08],[-120.39,38.08],[-120.30,38.11],[-121.35,37.95],[-121.32,37.89],[-122.85,38.10],[-122.75,38.06],[-123.08,38.0],[-122.84,37.95],[-121.76,38.04],[-121.81,37.80],[-121.74,37.80]]

var blue = [[-119.51,38.57],[-119.62,38.62],[-119.40,38.39],[-119.31,38.29],[-119.20,38.23],[-119.14,38.20],[-119.08,38.30],[-119.0,38.29],[-118.92,38.24],[-118.83,38.17],[-118.87,38.13],[-118.84,38.09],[-118.85,38.04],[-119.13,38.08],[-118.77,37.98],[-118.73,37.92],[-118.72,38.01],[-118.60,37.97],[-118.56,37.92],[-118.91,37.85],[-119.0,37.81],[-120.39,38.08],[-120.31,38.12],[-119.98,38.02],[-119.93,37.95],[-119.66,37.96],[-119.61,38.14],[-119.60,38.08],[-120.14,37.83],[-120.0,37.80],[-119.54,37.76],[-119.72,37.70],[-119.79,37.68],[-120.46,37.62],[-120.04,37.65],[-120.09,37.57],[-120.10,37.48],[-119.95,37.56],[-119.60,37.68],[-119.79,37.54],[-119.82,37.46],[-119.89,37.41],[-119.68,37.40],[-119.77,37.36],[-119.36,37.42],[-119.30,37.48],[-119.26,37.30],[-119.52,37.35],[-120.25,37.29],[-120.08,37.25],[-120.20,37.18],[-120.19,37.05],[-120.14,37.02],[-120.01,37.05],[-119.95,37.10],[-120.02,36.96],[-119.97,36.89],[-119.77,36.92],[-119.70,36.90],[-119.59,37.07],[-119.52,37.07],[-119.38,37.08],[-119.56,36.94],[-119.58,36.87],[-119.24,36.90],[-119.34,36.85],[-120.43,36.84],[-120.05,36.84],[-119.84,36.80],[-119.92,36.77],[-119.91,36.70],[-119.75,36.75],[-119.29,36.74],[-118.36,37.65],[-118.22,37.59],[-118.04,37.58],[-117.91,37.49],[-118.58,37.26],[-118.26,37.19],[-118.31,37.17],[-118.44,37.45],[-118.17,36.99],[-118.26,36.88],[-117.49,36.96],[-120.60,38.23],[-120.14,37.83],[-120.45,37.62],[-120.63,37.49],[-120.96,37.43],[-120.58,37.29],[-120.25,37.29],[-120.20,37.19],[-120.04,37.65],[-119.99,37.80],[-119.98,38.02],[-119.95,37.55],[-119.88,37.41],[-120.07,37.25],[-119.95,37.10],[-120.01,37.06],[-120.01,36.96],[-120.19,37.05],[-120.13,37.02],[-119.96,36.88],[-120.05,36.84],[-119.90,36.73],[-119.83,36.80],[-120.43,36.83],[-120.61,36.88],[-120.68,36.82],[-120.86,36.92],[-120.80,36.99],[-120.81,36.90],[-120.93,36.76],[-120.87,36.76],[-121.12,36.86],[-121.13,37.27],[-121.18,37.25],[-121.19,37.20],[-121.24,37.13],[-121.18,37.16],[-121.23,37.08],[-121.17,37.08],[-121.32,36.98],[-121.59,37.37],[-121.61,37.45],[-121.68,37.57],[-121.65,37.54],[-121.88,37.34],[-121.86,37.22],[-121.71,37.10],[-121.70,37.04],[-121.88,37.10],[-122.09,37.05],[-122.26,37.0],[-122.53,37.18],[-122.44,37.23],[-122.26,37.38],[-122.85,37.65],[-122.40,36.85],[-122.31,36.84],[-122.25,36.76],[-121.97,36.69],[-121.81,36.59]]

var royal = [[-118.81,36.70],[-118.71,36.70],[-118.09,36.74],[-117.95,36.74],[-117.51,36.71],[-117.25,36.75],[-116.84,36.62],[-117.05,36.56],[-116.93,36.44],[-118.44,36.60],[-118.28,36.55],[-118.14,36.52],[-117.82,36.56],[-117.58,36.52],[-117.61,36.44],[-118.60,36.50],[-118.66,36.40],[-119.17,36.45],[-119.22,36.55],[-119.04,36.39],[-119.01,36.31],[-119.37,36.30],[-119.48,36.24],[-119.52,36.14],[-119.33,36.14],[-119.17,36.17],[-119.18,36.09],[-119.42,36.08],[-119.50,36.0],[-119.33,35.97],[-119.27,35.89],[-119.34,35.84],[-119.33,35.78],[-119.50,35.73],[-119.58,35.69],[-119.61,35.76],[-119.74,35.71],[-119.14,35.69],[-119.29,35.65],[-119.54,35.60],[-119.47,35.58],[-119.32,35.55],[-119.42,35.52],[-119.42,35.43],[-119.27,35.37],[-119.34,35.37],[-119.61,35.32],[-119.59,35.25],[-119.30,35.25],[-119.39,35.17],[-119.26,35.19],[-119.22,35.13],[-119.05,35.33],[-119.03,35.25],[-118.96,35.44],[-118.77,35.37],[-118.77,35.29],[-118.90,35.21],[-118.92,35.54],[-118.74,35.53],[-120.42,35.57],[-120.10,35.54],[-120.09,35.45],[-120.31,35.64],[-120.24,35.69],[-120.10,35.80],[-120.02,35.84],[-120.08,35.96],[-119.74,36.13],[-119.70,36.04],[-119.64,35.93],[-119.82,36.14],[-119.99,36.20],[-119.87,36.34],[-120.01,36.34],[-120.0,36.47],[-120.11,36.49],[-120.14,36.62],[-120.44,36.04],[-120.39,35.27],[-120.31,35.31],[-118.88,36.14],[-118.85,36.08],[-118.70,36.02],[-118.56,36.10],[-118.52,35.94],[-118.97,35.91],[-118.90,35.91],[-118.58,35.83],[-118.28,35.72],[-118.24,36.15],[-118.21,36.05],[-118.15,35.98],[-118.06,36.0],[-118.10,35.86],[-117.98,35.85],[-118.02,35.63],[-117.90,35.64],[-117.81,35.90],[-117.71,35.70],[-117.59,35.58],[-117.15,35.56],[-116.90,35.60],[-116.67,35.68],[-116.57,35.70],[-116.42,35.64],[-116.40,35.58],[-116.34,35.60],[-116.29,35.55],[-116.98,35.48],[-116.91,35.45],[-116.76,35.43],[-117.67,35.45],[-117.59,35.46],[-117.52,35.40],[-117.42,35.40],[-117.36,35.29],[-117.43,35.19],[-117.98,35.40],[-118.09,35.31],[-118.07,35.22],[-118.39,35.15],[-117.27,35.79],[-117.22,35.73],[-117.39,36.07],[-117.48,35.97],[-117.10,36.11],[-116.83,35.87],[-116.69,35.14],[-116.48,35.15],[-117.02,35.11],[-117.98,36.35],[-117.99,36.20],[-117.99,36.08],[-118.05,36.13],[-117.77,36.09],[-121.80,36.36],[-121.86,36.44],[-121.75,36.45],[-122.49,36.47],[-122.21,36.47],[-122.27,36.23],[-121.47,36.50],[-121.45,36.28],[-121.36,36.30],[-121.60,36.30],[-121.73,36.12],[-121.78,36.17],[-121.30,36.23],[-121.26,36.18],[-121.87,36.07],[-122.15,36.02],[-121.92,35.86],[-121.34,35.93],[-121.18,35.93],[-120.89,36.10],[-120.86,35.97],[-120.92,35.95],[-120.79,36.15],[-120.66,35.88],[-120.53,36.09],[-120.44,36.04],[-120.73,36.35],[-120.67,36.34],[-120.82,36.44],[-120.62,36.41],[-120.36,36.47],[-120.48,36.55],[-120.20,36.50],[-120.11,36.49],[-120.0,36.34],[-119.90,36.51],[-120.10,35.80],[-120.23,35.68],[-120.30,35.64],[-120.56,35.59],[-120.41,35.57],[-120.69,35.60],[-120.10,35.54],[-120.09,35.45],[-120.59,35.48],[-120.62,35.37],[-120.62,35.29],[-120.74,35.29],[-120.30,35.31],[-120.39,35.25],[-120.39,35.06],[-120.29,34.89],[-120.38,34.76],[-120.53,34.78],[-120.99,34.91],[-121.14,34.85],[-121.0,34.70],[-120.76,34.69],[-120.81,34.99],[-120.85,35.08],[-120.85,35.15],[-121.81,35.26],[-121.49,35.15],[-121.58,34.71],[-121.51,34.81],[-121.21,35.50],[-121.06,35.46],[-121.56,35.84],[-121.51,35.70],[-120.18,34.56],[-120.05,34.58],[-120.14,34.70],[-120.08,34.71],[-120.39,35.06],[-120.81,35.0],[-120.85,35.08],[-120.51,34.80],[-120.39,34.90],[-120.38,34.76],[-120.14,34.71],[-120.09,34.71],[-120.77,34.69],[-120.18,34.55],[-120.05,34.57],[-119.70,34.53],[-120.36,34.34],[-120.80,34.28],[-120.76,34.41],[-120.89,34.43],[-120.71,34.48],[-119.71,34.89],[-119.48,34.79],[-119.54,34.69],[-119.47,34.66],[-119.22,34.67],[-119.16,34.82],[-119.12,34.92],[-118.96,34.92],[-118.96,34.73],[-118.89,34.69],[-118.78,34.71],[-119.04,34.66],[-119.01,34.57],[-118.66,34.63],[-118.57,34.57],[-118.47,34.57],[-118.41,34.66],[-118.27,34.61],[-118.26,34.45],[-118.26,34.34],[-118.05,34.57],[-118.01,34.46],[-117.90,34.49],[-118.05,34.25],[-117.98,34.27],[-117.86,34.24],[-117.76,34.24],[-117.83,34.17],[-117.79,34.10],[-117.64,34.10],[-118.69,34.92],[-118.51,34.92],[-118.44,34.96],[-118.42,34.88],[-118.16,34.93],[-118.12,34.84],[-117.73,34.79],[-118.06,35.22],[-119.26,35.19],[-119.39,35.18],[-119.58,35.24],[-119.02,35.25],[-118.90,35.21],[-118.81,35.10],[-118.78,35.02],[-118.35,35.02],[-118.84,34.37],[-118.84,34.31],[-118.75,34.13],[-118.62,34.23],[-119.26,34.44],[-119.16,34.27],[-119.05,34.21],[-119.06,34.32],[-119.35,34.38],[-119.43,34.40]]

var navy = [[-120.25,34.03],[-120.49,33.93],[-120.42,33.93],[-120.55,33.87],[-120.73,33.85],[-120.29,33.86],[-120.08,33.73],[-119.56,33.91],[-119.47,33.97],[-119.42,33.89],[-119.38,34.08],[-119.31,34.11],[-119.33,34.05],[-119.30,33.97],[-119.51,34.22],[-119.67,34.15],[-119.30,33.73],[-119.36,33.66],[-119.46,33.61],[-118.89,33.57],[-119.07,34.01],[-118.88,33.89],[-119.21,33.46],[-119.11,33.50],[-119.03,33.51],[-119.15,33.42],[-119.06,33.43],[-118.71,33.33],[-118.64,33.32],[-119.45,33.19],[-119.21,33.23],[-119.25,33.14],[-119.10,33.11],[-118.83,33.17],[-118.58,32.98],[-118.35,32.94],[-118.39,32.86],[-118.45,32.81],[-118.34,32.80],[-118.30,32.83],[-118.27,32.78],[-118.17,32.81],[-118.18,33.02],[-118.14,32.99],[-118.00,32.61],[-117.99,32.51],[-117.88,32.41],[-118.03,32.39],[-117.59,32.46],[-117.69,32.12],[-117.75,32.09],[-117.92,32.92],[-118.00,32.80],[-117.69,33.05],[-117.55,32.73],[-117.51,32.68],[-117.48,32.51],[-117.86,33.25],[-117.94,33.42],[-118.47,33.52],[-118.45,33.43],[-118.35,33.32],[-118.29,33.23],[-118.23,33.32],[-118.22,33.26],[-118.29,33.39],[-118.13,33.39],[-118.10,33.56],[-118.02,33.56],[-118.08,33.99],[-118.02,33.85],[-117.87,33.78],[-118.60,33.74],[-118.46,33.60],[-118.22,34.12],[-118.44,34.12],[-115.07,35.02],[-115.30,33.88],[-115.29,33.49],[-115.79,33.80],[-115.70,33.83],[-115.62,33.83],[-115.63,34.62],[-115.58,34.49],[-116.12,34.71],[-116.03,34.72],[-115.16,32.98],[-115.11,33.0],[-114.85,32.72],[-114.69,32.57],[-114.57,32.58],[-114.74,32.24],[-114.97,32.25],[-115.33,32.73],[-115.21,32.61],[-115.33,32.57],[-116.48,35.15],[-116.54,35.10],[-116.36,35.07],[-116.50,35.0],[-116.42,35.01],[-116.55,34.93],[-116.60,34.87],[-116.66,34.96],[-116.69,35.13],[-116.62,35.06],[-117.02,35.11],[-116.90,35.02],[-117.02,34.96],[-116.77,34.73],[-116.61,34.78],[-116.44,34.75],[-117.19,34.69],[-117.46,34.67],[-116.80,34.58],[-116.47,34.57],[-116.34,34.49],[-117.02,34.51],[-117.02,34.44],[-116.44,34.45],[-116.79,34.40],[-116.73,34.41],[-117.50,34.38],[-117.25,34.30],[-117.18,34.36],[-117.12,34.23],[-117.08,34.31],[-116.86,34.2],[-116.58,34.22],[-116.35,34.22],[-116.25,34.02],[-116.53,34.02],[-117.35,34.04],[-117.28,34.17],[-117.62,33.94],[-117.60,33.87],[-116.59,33.80],[-117.14,33.70],[-116.85,33.62],[-117.53,33.68],[-116.03,33.69],[-117.26,33.54],[-116.95,33.54],[-117.20,33.44],[-116.60,33.56],[-116.26,33.49],[-116.19,33.46],[-117.18,33.27],[-116.80,33.19],[-116.64,33.21],[-116.25,33.18],[-116.20,33.2],[-117.45,33.15],[-116.67,33.02],[-116.61,32.95],[-116.81,32.93],[-116.13,32.98],[-116.21,32.94],[-116.34,32.86],[-115.89,32.82],[-115.80,32.78],[-115.72,32.80],[-115.67,32.90],[-115.52,33.13],[-115.76,33.25],[-116.60,32.79],[-116.67,32.76],[-116.74,32.73],[-116.69,32.67],[-116.73,32.62],[-116.86,32.60],[-117.48,32.81],[-117.55,32.74],[-117.52,32.68],[-117.24,32.60],[-117.30,32.55],[-117.47,32.52],[-117.59,32.46],[-117.33,32.40],[-116.93,32.46],[-116.76,32.36],[-116.41,32.55],[-116.45,32.42],[-116.33,32.40],[-116.32,32.34],[-116.19,32.56],[-116.12,32.56],[-116.19,32.52],[-116.11,32.40],[-116.03,32.46],[-115.97,32.48],[-116.01,32.27],[-115.85,32.34],[-115.76,32.37],[-116.56,32.30],[-116.50,32.30],[-116.46,32.2],[-116.27,32.27],[-116.30,32.18],[-116.36,32.14],[-116.68,32.14],[-116.96,32.14],[-117.14,32.10],[-117.13,32.24],[-117.19,32.04],[-117.47,32.19],[-117.53,32.06],[-117.41,32.02],[-116.77,32.02],[-116.57,32.02],[-116.12,32.06],[-115.75,32.0]]

var layers = [
    {pts: red, color: "#f51500", r: 5},
    {pts: redOrange, color: "#ff3c00", r: 5},
    {pts: tailRed, color: "#f02800", r: 5.5},
    {pts: darkRed, color: "#a00000", r: 4.6},
    {pts: darkBand, color: "#a00000", r: 4.6},
    {pts: tailDark, color: "#a00000", r: 5},
    {pts: orange, color: "#ff8000", r: 4.6},
    {pts: amber, color: "#ffb400", r: 4.2},
    {pts: yellow, color: "#f2f000", r: 4},
    {pts: lime, color: "#b4ff40", r: 3.8},
    {pts: green, color: "#74ff8a", r: 3.6},
    {pts: aqua, color: "#40ffc0", r: 3.6},
    {pts: cyan, color: "#00e6f5", r: 3.4},
    {pts: sky, color: "#00b4ff", r: 3.3},
    {pts: azure, color: "#0080ff", r: 3.3},
    {pts: blue, color: "#0050f0", r: 3.3},
    {pts: royal, color: "#0a20e0", r: 3.3},
    {pts: navy, color: "#0000a8", r: 3.3}
]

var myChart = d3.select("main")
    .append("svg")
    .attr("width",1167)
    .attr("height",971)

var xAxisValues = d3.scaleLinear().domain([-124,-114]).range([140,1117])
var yAxisValues = d3.scaleLinear().domain([32,42]).range([866,28])

myChart.append("clipPath").attr("id","plot")
    .append("rect")
    .attr("x",120).attr("y",0).attr("width",1010).attr("height",866)

var dots = myChart.append("g").attr("clip-path","url(#plot)")

layers.forEach(function(l){
    dots.append("g").selectAll("circle").data(l.pts)
        .enter().append("circle")
            .attr("cx",function(d){ return xAxisValues(d[0]) })
            .attr("cy",function(d){ return yAxisValues(d[1]) })
            .attr("r",l.r)
            .style("fill",l.color)
})

var coastLine = d3.line()
    .x(function(d){ return xAxisValues(d[0]) })
    .y(function(d){ return yAxisValues(d[1]) })

dots.append("path")
    .datum(coast)
    .attr("d",coastLine)
    .style("fill","none")
    .style("stroke","#000")
    .style("stroke-width",6.5)
    .style("stroke-linejoin","round")
    .style("stroke-linecap","round")

var xAxisTicks = d3.axisBottom(xAxisValues)
    .tickValues(xTicks)
    .tickSizeInner(-9)
    .tickSizeOuter(0)
    .tickPadding(16)
    .tickFormat(function(d){ return "\u2212" + Math.abs(d) })

var xGuide = myChart.append("g")
    .attr("transform","translate(0,866)")
    .call(xAxisTicks)

xGuide.selectAll("text")
    .attr("dx",-14)
    .style("font-size","44px")

var yAxisTicks = d3.axisLeft(yAxisValues)
    .tickValues(yTicks)
    .tickSizeInner(-9)
    .tickSizeOuter(0)
    .tickPadding(10)

var yGuide = myChart.append("g")
    .attr("transform","translate(140,0)")
    .call(yAxisTicks)

yGuide.selectAll("text")
    .style("font-size","44px")

myChart.selectAll(".domain, .tick line")
    .style("stroke","#222")
    .style("stroke-width",2)

myChart.append("text")
    .attr("x",628)
    .attr("y",958)
    .attr("text-anchor","middle")
    .style("font-size","54px")
    .text("Longitude")

myChart.append("text")
    .attr("transform","translate(50,445) rotate(-90)")
    .attr("text-anchor","middle")
    .style("font-size","49px")
    .text("Latitude")
</script>
</body>
</html>
